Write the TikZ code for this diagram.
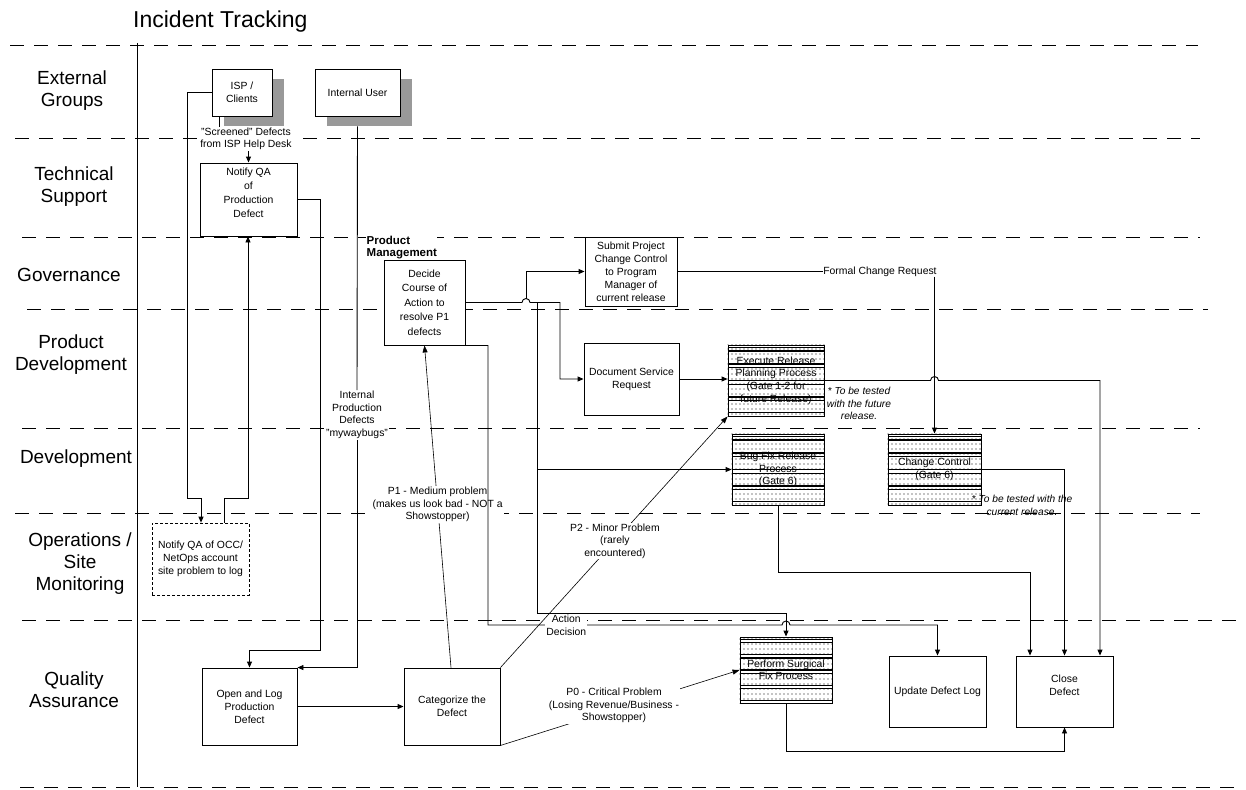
\documentclass[tikz,border=0pt]{standalone}
\usepackage{fontspec}
\setmainfont{Liberation Sans}
\usetikzlibrary{arrows.meta,calc,patterns,backgrounds}

\pgfdeclarepatternformonly{sdots}{\pgfqpoint{-0.7pt}{-0.7pt}}{\pgfqpoint{0.7pt}{0.7pt}}{\pgfqpoint{4pt}{5pt}}{\pgfpathcircle{\pgfqpoint{0pt}{0pt}}{0.55pt}\pgfusepath{fill}}

\newcommand\bxf{\fontsize{10.4}{13}\selectfont}
\newcommand\lnf{\fontsize{19}{22}\selectfont}
\newcommand\lbf{\fontsize{10.4}{12.6}\selectfont}

\newcommand\texturebox[1]{%
  \begin{scope}[on background layer]
    \fill[pattern=sdots] (#1.north west) rectangle (#1.south east);
    \foreach \f in {0.04,0.09,0.27,0.32,0.5,0.55,0.73,0.78,0.95}{
      \draw[line width=1.1pt] ($(#1.north west)!\f!(#1.south west)$) -- ($(#1.north east)!\f!(#1.south east)$);}
  \end{scope}}

\tikzset{
  box/.style={draw, line width=0.9pt, fill=white, align=center, font=\bxf, inner sep=1pt},
  tbox/.style={draw, line width=0.9pt, align=center, font=\bxf, inner sep=1pt},
  ln/.style={line width=0.9pt},
  arr/.style={line width=0.9pt, -{Triangle[length=6pt,width=5pt]}},
  thinarr/.style={line width=0.6pt, -{Triangle[length=7pt,width=5pt]}},
  lbl/.style={fill=white, align=center, font=\lbf, inner sep=1pt},
  lane/.style={font=\lnf, align=center},
  sep/.style={line width=0.9pt, dash pattern=on 14pt off 10pt},
  note/.style={font=\itshape\fontsize{10.2}{12.8}\selectfont, align=center, inner sep=0pt},
  shadowfill/.style={fill=black!40}
}

\begin{document}
\begin{tikzpicture}[x=1pt,y=-1pt]
\useasboundingbox (0,0) rectangle (1246,789);
\begin{scope}[on background layer]
  \fill[white] (0,0) rectangle (1246,789);
\end{scope}

% title
\node[font=\fontsize{23}{26}\selectfont, anchor=west, inner sep=0pt] (title) at (133,22) {Incident Tracking};

% lane separators
\foreach \y/\a/\b in {45/10/1198, 138/15/1200, 237/22/1200, 309/27/1208, 428/22/1200, 513/15/1200, 620/22/1240, 787/20/1240}
  \draw[sep] (\a,\y) -- (\b,\y);
\draw[ln] (137,43) -- (137,787);

% lane labels
\node[lane] (l1) at (72,91) {External\\Groups};
\node[lane] (l2) at (74,187) {Technical\\Support};
\node[lane] (l3) at (69,275) {Governance};
\node[lane] (l4) at (71,355) {Product\\Development};
\node[lane] (l5) at (76,459) {Development};
\node[lane] (l6) at (80,564) {Operations /\\Site\\Monitoring};
\node[lane] (l7) at (74,690) {Quality\\Assurance};

% nodes
\node[box, minimum width=60, minimum height=47] (isp) at (242,92.5) {ISP /\\Clients};
\node[box, minimum width=85, minimum height=47] (iu) at (357.5,92.5) {Internal User};
\begin{scope}[on background layer]
  \fill[shadowfill] ($(isp.north west)+(12,10)$) rectangle ($(isp.south east)+(12,10)$);
  \fill[shadowfill] ($(iu.north west)+(12,10)$) rectangle ($(iu.south east)+(12,10)$);
\end{scope}

\node[box, minimum width=97, minimum height=73, font=\fontsize{10.4}{14}\selectfont] (nqa) at (248.5,199.5) {Notify QA\\of\\Production\\Defect\\\mbox{}};
\node[box, minimum width=97, minimum height=72, dash pattern=on 3pt off 2pt, line width=0.7pt] (occ) at (200.5,559) {Notify QA of OCC/\\NetOps account\\site problem to log};
\node[box, minimum width=81, minimum height=85, font=\fontsize{10.4}{14.5}\selectfont] (decide) at (424.5,302.5) {Decide\\Course of\\Action to\\resolve P1\\defects};
\node[box, minimum width=92, minimum height=69] (submit) at (631,271.5) {Submit Project\\Change Control\\to Program\\Manager of\\current release};
\node[box, minimum width=95, minimum height=72] (dsr) at (631.5,379) {Document Service\\Request};
\node[tbox, minimum width=96, minimum height=71, font=\fontsize{10.4}{12.7}\selectfont] (exec) at (776,380.5) {Execute Release\\Planning Process\\(Gate 1-2 for\\future Release)};
\node[tbox, minimum width=92, minimum height=71, font=\fontsize{10.4}{12.2}\selectfont] (bugfix) at (778,469.5) {Bug Fix Release\\Process\\(Gate 6)};
\node[tbox, minimum width=93, minimum height=71] (cc) at (934.5,469.5) {Change Control\\(Gate 6)};
\node[tbox, minimum width=92, minimum height=66, font=\fontsize{10.4}{12}\selectfont] (perform) at (786,670) {Perform Surgical\\Fix Process};
\node[box, minimum width=97, minimum height=71] (udl) at (937.5,691.5) {Update Defect Log};
\node[box, minimum width=97, minimum height=71] (close) at (1064.5,691.5) {Close\\Defect\\\mbox{}};
\node[box, minimum width=95, minimum height=77] (open) at (249.5,706.5) {Open and Log\\Production\\Defect};
\node[box, minimum width=96, minimum height=77] (cat) at (452,706.5) {Categorize the\\Defect};

\texturebox{exec}
\texturebox{bugfix}
\texturebox{cc}
\texturebox{perform}

% notes and labels
\node[note] (n1) at (859,403.5) {* To be tested\\with the future\\release.};
\node[note] (n2) at (1022,505) {* To be tested with the\\current release.};
\node[font=\bfseries\fontsize{11.5}{12}\selectfont, align=left, fill=white, inner sep=0.5pt, anchor=north west] (pm) at (366,235.5) {Product\\Management};
\node[lbl] (scr) at (246,139) {"Screened" Defects\\from ISP Help Desk};
\node[lbl] (iul) at (357,415) {Internal\\Production\\Defects\\"mywaybugs"};
\node[font=\lbf, inner sep=0pt] (fcr) at (880,271.5) {Formal Change Request};

% connectors
\draw[ln] (isp.south -| 219,0) -- (scr.north -| 219,0);
\draw[arr] (scr.south -| nqa.north) -- (nqa.north);
\draw[arr] (isp.west) -- ++(-24,0) |- (201,498) -- (occ.north -| 201,0);
\draw[arr] (occ.north -| 224,0) |- (248,498) -- (nqa.south -| 248,0);
\draw[arr] (nqa.east) -| (320,650) -| (open.north);
\draw[ln] ($(iu.south)+(0,10)$) -- (iul.north);
\draw[arr] (iul.south) |- (open.north east);
\draw[arr] (open.east) -- (cat.west);

\draw[thinarr] (cat.north -| 451,0) -- node[lbl, pos=0.506] {P1 - Medium problem\\(makes us look bad - NOT a\\Showstopper)} (decide.south);
\draw[thinarr] (cat.south east) -- node[lbl, pos=0.475, yshift=4pt] {P0 - Critical Problem\\(Losing Revenue/Business -\\Showstopper)} (perform.west);

\coordinate (j1) at (526,298.5);
\coordinate (j2) at (537,302.5);
\draw[arr] (decide.east) -- (522,302.5) arc[start angle=180, end angle=360, radius=4] -- (560,302.5) |- (dsr.west);
\draw[arr] (j1) |- (submit.west);
\draw[arr] (j2) -- (537,613) -| (perform.north);
\draw[arr] (j2 |- bugfix.west) -- (bugfix.west);
\draw[arr] (decide.south east) -| (488,625) -- node[lbl, pos=0.266] {Action\\Decision} (782,625) arc[start angle=180, end angle=360, radius=4] -| (udl.north);

\draw[thinarr] (cat.north east) -- node[lbl, pos=0.504] {P2 - Minor Problem\\(rarely\\encountered)} (exec.south west);

\draw[ln] (submit.east) -- (fcr.west);
\draw[arr] (fcr.south -| cc.north) -- (cc.north);
\draw[arr] (dsr.east) -- (dsr.east -| exec.west);
\draw[arr] (exec.east) -- ($(cc.north |- exec.east)+(-4,0)$) arc[start angle=180, end angle=360, radius=4] -- (1100,380.5) -- (close.north -| 1100,0);
\draw[arr] (bugfix.south) |- (1030,572) -- (close.north -| 1030,0);
\draw[arr] (cc.east) -| (close.north);
\draw[arr] (perform.south) -- ++(0,48) -| (close.south);
\end{tikzpicture}
\end{document}
